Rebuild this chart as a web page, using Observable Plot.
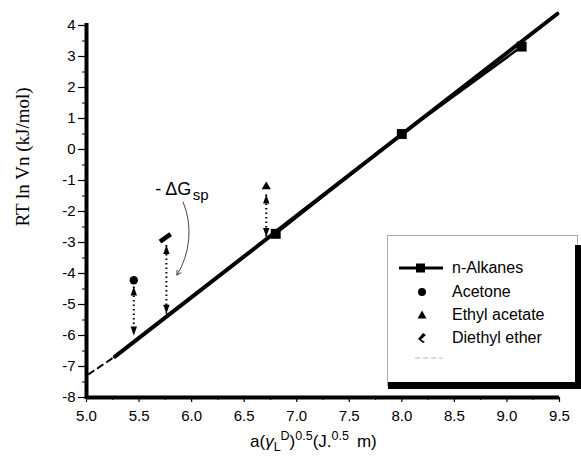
<!DOCTYPE html>
<html><head><meta charset="utf-8">
<script src="https://cdn.jsdelivr.net/npm/d3@7"></script>
<script src="https://cdn.jsdelivr.net/npm/@observablehq/plot@0.6"></script>
<style>
body{margin:0;background:#fff;}
#wrap{position:relative;width:581px;height:457px;font-family:"Liberation Sans",Arial,sans-serif;color:#000;overflow:hidden;}
#ylab{position:absolute;left:23px;top:157px;transform:translate(-50%,-50%) rotate(-90deg);white-space:nowrap;font-family:"Liberation Serif","Times New Roman",serif;font-size:19px;}
#xlab{position:absolute;left:250px;top:432px;white-space:nowrap;font-size:17px;line-height:20px;}
#xlab sup,#xlab sub{font-size:12.5px;line-height:0;}
#legend{position:absolute;left:387px;top:235px;width:189px;height:150px;border:1px solid #aaa;border-bottom:none;background:#fff;}
.bar{position:absolute;background:#000;}
.row{position:absolute;left:0;height:22px;line-height:22px;font-size:16px;white-space:nowrap;}
.row svg{position:absolute;left:0;top:0;}
.row span{position:absolute;left:64px;top:0;}
</style></head><body><div id="wrap"></div>
<script>
// Axis ticks
const xTicks = [5.0, 5.5, 6.0, 6.5, 7.0, 7.5, 8.0, 8.5, 9.0, 9.5];
const xMinor = [5.25, 5.75, 6.25, 6.75, 7.25, 7.75, 8.25, 8.75, 9.25];
const yTicks = [-8, -7, -6, -5, -4, -3, -2, -1, 0, 1, 2, 3, 4];
const yMinor = [-7.5, -6.5, -5.5, -4.5, -3.5, -2.5, -1.5, -0.5, 0.5, 1.5, 2.5, 3.5];

// n-Alkanes reference points and fitted line
const alkanesX = [6.8, 8.0, 9.14];
const alkanesY = [-2.72, 0.5, 3.32];
const fitX = [5.27, 9.48];
const fitY = [-6.68, 4.38];
const extrapX = [5.02, 5.27];
const extrapY = [-7.25, -6.68];

// Polar probes
const probeNames = ["Acetone", "Ethyl acetate", "Diethyl ether"];
const probeX = [5.45, 6.71, 5.75];
const probeY = [-4.22, -1.2, -2.85];
// -ΔGsp double arrows (tip positions)
const arrowTop = [-4.42, -1.45, -3.08];
const arrowBottom = [-6.0, -2.82, -5.3];
const arrowX = [5.45, 6.71, 5.76];

// Annotation
const annotMainText = ["- ΔG"];
const annotMainX = [5.655];
const annotMainY = [-1.29];
const annotSubText = ["sp"];
const annotSubX = [6.01];
const annotSubY = [-1.48];
const curveX1 = [5.92], curveY1 = [-1.7], curveX2 = [5.86], curveY2 = [-4.05];

const legendLabels = ["n-Alkanes", "Acetone", "Ethyl acetate", "Diethyl ether"];

const arrowHead = {draw(ctx) { ctx.moveTo(0, 0); ctx.lineTo(-3.2, 9); ctx.lineTo(3.2, 9); ctx.closePath(); }};
const bar = {draw(ctx) { ctx.moveTo(-6.5, -2.3); ctx.lineTo(6.5, -2.3); ctx.lineTo(6.5, 2.3); ctx.lineTo(-6.5, 2.3); ctx.closePath(); }};

const i3 = d3.range(3);
const chart = Plot.plot({
  width: 581, height: 457,
  marginLeft: 86, marginRight: 22, marginTop: 25, marginBottom: 60,
  style: {fontFamily: "Liberation Sans, Arial, sans-serif", fontSize: "15px", color: "black", background: "white"},
  x: {domain: [5, 9.5]},
  y: {domain: [-8, 4]},
  marks: [
    Plot.axisX({ticks: xTicks, tickSize: 5, tickPadding: 8, tickFormat: d => d.toFixed(1), label: null, strokeWidth: 1.2}),
    Plot.axisX({ticks: xMinor, tickSize: 3, text: null, label: null, strokeWidth: 1}),
    Plot.axisY({ticks: yTicks, tickSize: 8, tickPadding: 3, tickFormat: d => String(d), label: null, strokeWidth: 1.2}),
    Plot.axisY({ticks: yMinor, tickSize: 4, text: null, label: null, strokeWidth: 1}),
    // extrapolated dashed part
    Plot.line(d3.range(2), {x: extrapX, y: extrapY, stroke: "black", strokeWidth: 2, strokeDasharray: "6 5"}),
    // fitted line
    Plot.line(d3.range(2), {x: fitX, y: fitY, stroke: "black", strokeWidth: 4}),
    // connecting line
    Plot.line(d3.range(3), {x: alkanesX, y: alkanesY, stroke: "black", strokeWidth: 2.5}),
    Plot.dot(d3.range(3), {x: alkanesX, y: alkanesY, symbol: "square", r: 5.6, fill: "black"}),
    // dotted double arrows
    Plot.link(i3, {x1: arrowX, y1: arrowTop, x2: arrowX, y2: arrowBottom, stroke: "black", strokeWidth: 2, strokeDasharray: "1.5 3"}),
    Plot.dot(i3, {x: arrowX, y: arrowTop, symbol: arrowHead, fill: "black", r: 3}),
    Plot.dot(i3, {x: arrowX, y: arrowBottom, symbol: arrowHead, fill: "black", r: 3, rotate: 180}),
    // probes
    Plot.dot([0], {x: [probeX[0]], y: [probeY[0]], symbol: "circle", r: 4.2, fill: "black"}),
    Plot.dot([0], {x: [probeX[1]], y: [probeY[1]], symbol: "triangle", r: 3.4, fill: "black"}),
    Plot.dot([0], {x: [probeX[2]], y: [probeY[2]], symbol: bar, r: 3, fill: "black", rotate: -35}),
    // annotation
    Plot.arrow([0], {x1: curveX1, y1: curveY1, x2: curveX2, y2: curveY2, bend: 27, stroke: "#444", strokeWidth: 1, headLength: 7}),
    Plot.text(annotMainText, {x: annotMainX, y: annotMainY, text: d => d, textAnchor: "start", fontSize: 18}),
    Plot.text(annotSubText, {x: annotSubX, y: annotSubY, text: d => d, textAnchor: "start", fontSize: 15}),
    // thick axis lines
    Plot.ruleX([5], {y1: -8, y2: 4, stroke: "black", strokeWidth: 4, strokeLinecap: "square"}),
    Plot.ruleY([-8], {x1: 5, x2: 9.5, stroke: "black", strokeWidth: 4})
  ]
});
const wrap = document.getElementById("wrap");
wrap.appendChild(chart);

const ylab = document.createElement("div");
ylab.id = "ylab"; ylab.textContent = "RT ln Vn (kJ/mol)";
wrap.appendChild(ylab);

const xlab = document.createElement("div");
xlab.id = "xlab";
xlab.innerHTML = 'a(<i>γ</i><sub>L</sub><sup>D</sup>)<sup>0.5</sup>(J.<sup>0.5</sup><span style="margin-left:8px">m)</span>';
wrap.appendChild(xlab);

// legend
const lg = document.createElement("div");
lg.id = "legend";
const glyphs = [
  '<svg width="60" height="22"><line x1="11" x2="55" y1="11" y2="11" stroke="black" stroke-width="3"/><rect x="28" y="6.5" width="9" height="9" fill="black"/></svg>',
  '<svg width="60" height="22"><circle cx="34" cy="11" r="4" fill="black"/></svg>',
  '<svg width="60" height="22"><path d="M34,6.5 L38.5,14.5 L29.5,14.5Z" fill="black"/></svg>',
  '<svg width="60" height="22"><path d="M30,12 L35,6 L38,8 L33,12.5 L37,15 L35,16Z" fill="black"/></svg>'
];
const rowTops = [21, 45, 68, 91];
legendLabels.forEach((t, i) => {
  const r = document.createElement("div");
  r.className = "row"; r.style.top = rowTops[i] + "px";
  r.innerHTML = glyphs[i] + "<span></span>";
  r.querySelector("span").textContent = t;
  lg.appendChild(r);
});
const faint = document.createElement("div");
faint.className = "row"; faint.style.top = "111px";
faint.innerHTML = '<svg width="60" height="22"><line x1="27" x2="55" y1="11" y2="11" stroke="#ddd" stroke-width="2" stroke-dasharray="5 3"/></svg>';
lg.appendChild(faint);
wrap.appendChild(lg);

const b1 = document.createElement("div"); b1.className = "bar";
Object.assign(b1.style, {left: "575px", top: "245px", width: "6px", height: "144px"});
const b2 = document.createElement("div"); b2.className = "bar";
Object.assign(b2.style, {left: "388px", top: "382px", width: "193px", height: "7px"});
wrap.appendChild(b1); wrap.appendChild(b2);
</script></body></html>
